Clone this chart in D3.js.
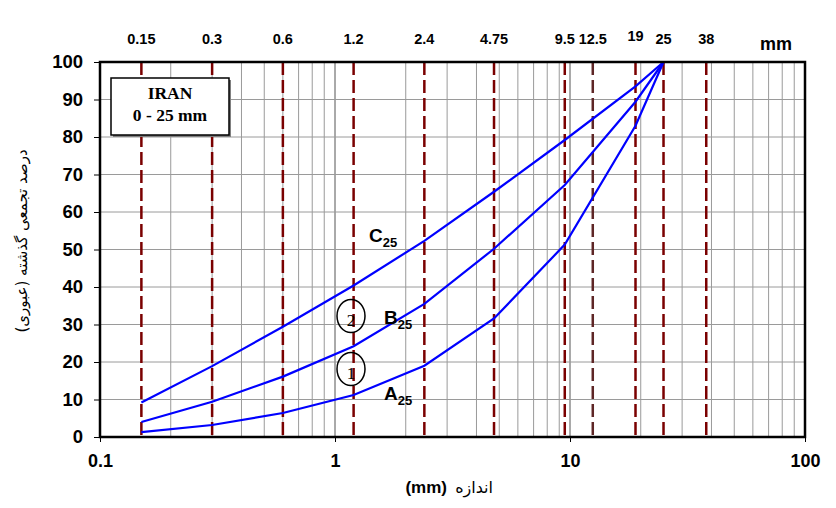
<!DOCTYPE html>
<html>
<head>
<meta charset="utf-8">
<script src="https://cdn.jsdelivr.net/npm/d3@7"></script>
<style>
  body { margin: 0; background: #fff; }
  svg { display: block; }
</style>
</head>
<body>
<svg id="chart"></svg>
<script>
// sieve sizes (mm) and the three grading curves
const sieves = [0.15, 0.3, 0.6, 1.2, 2.4, 4.75, 9.5, 12.5, 19, 25, 38];
const sieveLabels = ['0.15', '0.3', '0.6', '1.2', '2.4', '4.75', '9.5', '12.5', '19', '25', '38'];

const curveSizes = [0.15, 0.3, 0.6, 1.2, 2.4, 4.75, 9.5, 19, 25];
const curveA = [1.3, 3.2, 6.4, 11.2, 19, 31.6, 51.3, 83, 100];
const curveB = [4, 9.4, 16.1, 24.2, 35.5, 50.2, 67.2, 89.4, 100];
const curveC = [9.2, 18.9, 29.4, 40.4, 52.3, 65.4, 79.2, 93.5, 100];

const yTicks = [0, 10, 20, 30, 40, 50, 60, 70, 80, 90, 100];
const xTicks = [0.1, 1, 10, 100];

const width = 836, height = 508;
const margin = { left: 100, right: 31, top: 62, bottom: 71 };

const svg = d3.select('#chart')
    .attr('width', width)
    .attr('height', height);

const x = d3.scaleLog()
    .domain([0.1, 100])
    .range([margin.left, width - margin.right]);

const y = d3.scaleLinear()
    .domain([0, 100])
    .range([height - margin.bottom, margin.top]);

// minor vertical grid: 1..9 in each decade
let minor = [];
[0.1, 1, 10].forEach(d => {
    for (let i = 2; i <= 9; i++) minor.push(d * i);
});
minor.push(1, 10);

svg.append('g')
    .selectAll('line')
    .data(minor)
    .enter()
    .append('line')
    .attr('x1', d => x(d)).attr('x2', d => x(d))
    .attr('y1', y(0)).attr('y2', y(100))
    .attr('stroke', d => (d === 1 || d === 10) ? '#555' : '#9a9a9a')
    .attr('stroke-width', 1);

// horizontal grid
svg.append('g')
    .selectAll('line')
    .data(yTicks.slice(1, -1))
    .enter()
    .append('line')
    .attr('x1', x(0.1)).attr('x2', x(100))
    .attr('y1', d => y(d)).attr('y2', d => y(d))
    .attr('stroke', '#9a9a9a')
    .attr('stroke-width', 1);

// dashed sieve lines
svg.append('g')
    .selectAll('line')
    .data(sieves)
    .enter()
    .append('line')
    .attr('x1', d => x(d)).attr('x2', d => x(d))
    .attr('y1', y(100)).attr('y2', y(0))
    .attr('stroke', d => d === 12.5 ? '#5e2626' : '#7a0000')
    .attr('stroke-width', 2.5)
    .attr('stroke-dasharray', '13,5');

// sieve labels on top
svg.append('g')
    .selectAll('text')
    .data(sieves)
    .enter()
    .append('text')
    .attr('x', d => x(d))
    .attr('y', (d, i) => sieveLabels[i] === '19' ? 41 : 44)
    .attr('text-anchor', 'middle')
    .style('font-family', '"Liberation Sans", Arial, sans-serif')
    .style('font-weight', 'bold')
    .style('font-size', '14.5px')
    .text((d, i) => sieveLabels[i]);

svg.append('text')
    .attr('x', 776).attr('y', 50)
    .attr('text-anchor', 'middle')
    .style('font-family', '"Liberation Sans", Arial, sans-serif')
    .style('font-weight', 'bold')
    .style('font-size', '18px')
    .text('mm');

// grading curves
const line = d3.line()
    .x(d => x(d[0]))
    .y(d => y(d[1]));

[curveA, curveB, curveC].forEach(vals => {
    svg.append('path')
        .datum(curveSizes.map((s, i) => [s, vals[i]]))
        .attr('d', line)
        .attr('fill', 'none')
        .attr('stroke', '#0000ff')
        .attr('stroke-width', 2.2);
});

// frame
svg.append('rect')
    .attr('x', x(0.1)).attr('y', y(100))
    .attr('width', x(100) - x(0.1))
    .attr('height', y(0) - y(100))
    .attr('fill', 'none')
    .attr('stroke', '#000')
    .attr('stroke-width', 2.5);

// axes
const yAxis = svg.append('g')
    .attr('transform', 'translate(' + x(0.1) + ',0)')
    .call(d3.axisLeft(y).tickValues(yTicks).tickSize(6).tickPadding(11).tickFormat(d3.format('d')));
yAxis.select('.domain').remove();
yAxis.selectAll('text')
    .style('font-family', '"Liberation Sans", Arial, sans-serif')
    .style('font-weight', 'bold')
    .style('font-size', '18.5px');

const xAxis = svg.append('g')
    .attr('transform', 'translate(0,' + y(0) + ')')
    .call(d3.axisBottom(x).tickValues(xTicks).tickSize(5).tickPadding(12).tickFormat(d => d));
xAxis.select('.domain').remove();
xAxis.selectAll('text')
    .style('font-family', '"Liberation Sans", Arial, sans-serif')
    .style('font-weight', 'bold')
    .style('font-size', '18px');

// IRAN box with shadow
svg.append('rect')
    .attr('x', 113).attr('y', 80)
    .attr('width', 118).attr('height', 57)
    .attr('fill', '#808080');
svg.append('rect')
    .attr('x', 111).attr('y', 78)
    .attr('width', 118).attr('height', 57)
    .attr('fill', '#fff')
    .attr('stroke', '#000')
    .attr('stroke-width', 1.5);
svg.append('text')
    .attr('x', 170).attr('y', 99)
    .attr('text-anchor', 'middle')
    .style('font-family', '"Liberation Serif", "Times New Roman", serif')
    .style('font-weight', 'bold')
    .style('font-size', '17.5px')
    .text('IRAN');
svg.append('text')
    .attr('x', 170).attr('y', 121)
    .attr('text-anchor', 'middle')
    .style('font-family', '"Liberation Serif", "Times New Roman", serif')
    .style('font-weight', 'bold')
    .style('font-size', '17.5px')
    .text('0 - 25 mm');

// curve labels with subscripts
const curveLabels = [
    { t: 'C', x: 369, y: 242 },
    { t: 'B', x: 384, y: 324 },
    { t: 'A', x: 384, y: 400 }
];
curveLabels.forEach(c => {
    const txt = svg.append('text')
        .attr('x', c.x).attr('y', c.y)
        .style('font-family', '"Liberation Sans", Arial, sans-serif')
        .style('font-weight', 'bold')
        .style('font-size', '19px');
    txt.append('tspan').text(c.t);
    txt.append('tspan')
        .attr('dy', 5)
        .style('font-size', '13px')
        .text('25');
});

// circled numbers
[{ n: '2', cy: 316 }, { n: '1', cy: 369 }].forEach(c => {
    svg.append('ellipse')
        .attr('cx', 351).attr('cy', c.cy)
        .attr('rx', 14).attr('ry', 16.5)
        .attr('fill', 'none')
        .attr('stroke', '#000')
        .attr('stroke-width', 1.5);
    svg.append('text')
        .attr('x', 351).attr('y', c.cy + 10)
        .attr('text-anchor', 'middle')
        .style('font-family', '"Liberation Serif", "Times New Roman", serif')
        .style('font-size', '17px')
        .text(c.n);
});

// axis titles
svg.append('text')
    .attr('transform', 'translate(27,241) rotate(-90)')
    .attr('text-anchor', 'middle')
    .style('font-family', '"DejaVu Sans", sans-serif')
    .style('font-size', '15px')
    .text('درصد تجمعی گذشته (عبوری)');

svg.append('text')
    .attr('x', 447).attr('y', 493)
    .attr('text-anchor', 'end')
    .style('font-family', '"Liberation Sans", Arial, sans-serif')
    .style('font-weight', 'bold')
    .style('font-size', '17px')
    .text('(mm)');
svg.append('text')
    .attr('x', 493).attr('y', 493)
    .attr('text-anchor', 'end')
    .style('font-family', '"DejaVu Sans", sans-serif')
    .style('font-size', '16px')
    .text('اندازه');
</script>
</body>
</html>
